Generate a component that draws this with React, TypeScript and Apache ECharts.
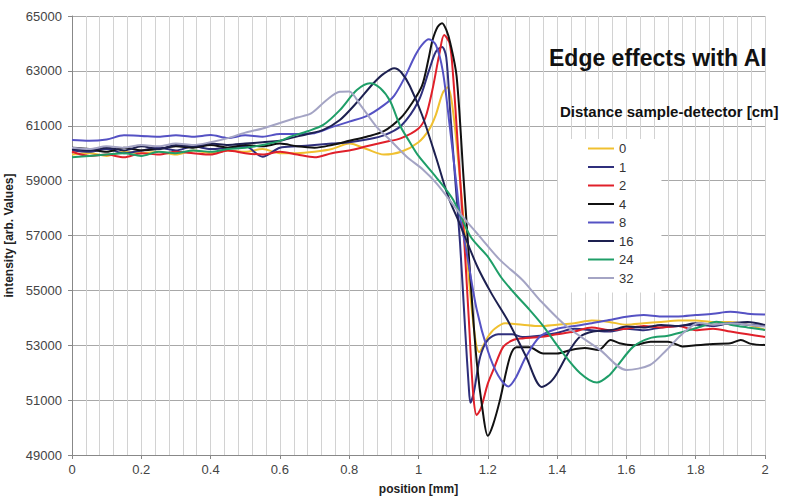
import React, { useEffect, useRef } from 'react';
import * as echarts from 'echarts';

const seriesNames = ['0', '1', '2', '4', '8', '16', '24', '32'];
const seriesColors = ['#f0c030', '#2f2f7c', '#e0202a', '#111111', '#5552c4', '#1d2050', '#1f9e68', '#a4a4c4'];

const xTickLabels = ['0', '0.2', '0.4', '0.6', '0.8', '1', '1.2', '1.4', '1.6', '1.8', '2'];
const yTickLabels = ['49000', '51000', '53000', '55000', '57000', '59000', '61000', '63000', '65000'];

const x0 = [0, 0.05, 0.1, 0.15, 0.2, 0.25, 0.3, 0.35, 0.4, 0.45, 0.5, 0.55, 0.6, 0.65, 0.7, 0.75, 0.8, 0.85, 0.9, 0.95, 1.0,
  1.03, 1.05, 1.07, 1.085, 1.1, 1.12, 1.14, 1.16, 1.175, 1.2, 1.22, 1.25,
  1.3, 1.35, 1.4, 1.45, 1.5, 1.55, 1.6, 1.65, 1.7, 1.75, 1.8, 1.85, 1.9, 1.95, 2.0];
const y0 = [59950, 60000, 59900, 60050, 60000, 60050, 59950, 60100, 60000, 60100, 60050, 60150, 60000, 60000, 60050, 60150, 60350, 60150, 59950, 60050, 60400,
  60850, 61400, 62200, 62400, 61500, 59000, 56200, 53600, 52750, 53300, 53600, 53800,
  53750, 53700, 53750, 53800, 53900, 53850, 53750, 53800, 53850, 53900, 53900, 53850, 53850, 53750, 53560];

const x1 = [0, 0.05, 0.1, 0.15, 0.2, 0.25, 0.3, 0.35, 0.4, 0.45, 0.5, 0.55, 0.6, 0.65, 0.7, 0.75, 0.8, 0.85, 0.9, 0.95, 1.0,
  1.03, 1.05, 1.068, 1.08, 1.091, 1.105, 1.12, 1.135, 1.145, 1.15, 1.16, 1.178, 1.2, 1.23, 1.27,
  1.3, 1.35, 1.4, 1.45, 1.5, 1.55, 1.6, 1.65, 1.7, 1.75, 1.8, 1.85, 1.9, 1.95, 2.0];
const y1 = [60100, 60050, 60150, 60000, 60100, 60200, 60100, 60250, 60150, 60200, 60250, 59870, 60200, 60250, 60300, 60350, 60400, 60500, 60650, 61000, 61900,
  63000, 63700, 63870, 63500, 61600, 59200, 56700, 53500, 51500, 50900, 51300, 52580, 53200, 53400, 53400,
  53300, 53350, 53450, 53600, 53550, 53500, 53600, 53550, 53650, 53700, 53750, 53700, 53800, 53750, 53700];

const x2 = [0, 0.05, 0.1, 0.15, 0.2, 0.25, 0.3, 0.35, 0.4, 0.45, 0.5, 0.55, 0.6, 0.65, 0.7, 0.75, 0.8, 0.85, 0.9, 0.95, 1.0,
  1.02, 1.04, 1.06, 1.074, 1.09, 1.1, 1.115, 1.13, 1.145, 1.158, 1.168, 1.18, 1.2, 1.216, 1.245, 1.275,
  1.3, 1.35, 1.4, 1.45, 1.5, 1.55, 1.6, 1.65, 1.7, 1.75, 1.8, 1.85, 1.9, 1.95, 2.0];
const y2 = [60050, 59900, 59950, 59850, 60000, 59950, 60050, 60000, 59950, 60100, 60000, 59950, 60050, 59950, 59850, 60000, 60100, 60250, 60400, 60550, 60900,
  61300, 62300, 63600, 64310, 64000, 62800, 60000, 57200, 54000, 51200, 50460, 50700, 51600, 52100, 52950, 53200,
  53250, 53300, 53400, 53500, 53650, 53550, 53600, 53700, 53650, 53700, 53550, 53600, 53500, 53400, 53300];

const x4 = [0, 0.05, 0.1, 0.15, 0.2, 0.25, 0.3, 0.35, 0.4, 0.45, 0.5, 0.55, 0.6, 0.65, 0.7, 0.75, 0.8, 0.85, 0.9, 0.95,
  0.98, 1.01, 1.03, 1.04, 1.055, 1.068, 1.08, 1.092, 1.11, 1.13, 1.15, 1.168, 1.187, 1.2, 1.215, 1.235, 1.264, 1.283,
  1.32, 1.36, 1.4, 1.44, 1.48, 1.52, 1.555, 1.58, 1.62, 1.67, 1.72, 1.765, 1.8, 1.85, 1.9, 1.93, 1.96, 2.0];
const y4 = [60200, 60150, 60050, 60200, 60100, 60150, 60250, 60200, 60300, 60200, 60300, 60250, 60350, 60250, 60200, 60300, 60450, 60600, 60800, 61300,
  61800, 62450, 63500, 64100, 64600, 64740, 64500, 64000, 62800, 59100, 55400, 52400, 50450, 49700, 50100, 51000, 52580, 52930,
  52930, 52700, 52700, 52830, 52900, 52830, 53190, 53070, 53000, 53130, 53130, 52950, 53000, 53050, 53070, 53190, 53050, 53010];

const x8 = [0, 0.05, 0.1, 0.15, 0.2, 0.25, 0.3, 0.35, 0.4, 0.45, 0.5, 0.55, 0.6, 0.65, 0.7, 0.75, 0.8, 0.85, 0.9,
  0.93, 0.96, 0.99, 1.01, 1.03, 1.05, 1.07, 1.09, 1.11, 1.12, 1.14, 1.168, 1.2, 1.23, 1.26, 1.28, 1.31, 1.35,
  1.4, 1.45, 1.5, 1.55, 1.6, 1.65, 1.7, 1.75, 1.8, 1.85, 1.9, 1.95, 2.0];
const y8 = [60480, 60450, 60500, 60650, 60630, 60600, 60650, 60600, 60660, 60550, 60650, 60600, 60700, 60700, 60730, 60950, 61150, 61350, 61750,
  62100, 62750, 63550, 63950, 64150, 63950, 63000, 61000, 58800, 57700, 56300, 54300, 52800, 51900, 51500, 51800, 52580, 53310,
  53600, 53700, 53800, 53920, 54040, 54100, 54050, 54050, 54100, 54150, 54220, 54150, 54120];

const x16 = [0, 0.05, 0.1, 0.15, 0.2, 0.25, 0.3, 0.35, 0.4, 0.45, 0.5, 0.55, 0.6,
  0.63, 0.68, 0.725, 0.773, 0.82, 0.87, 0.9, 0.93, 0.95, 0.975, 1.01, 1.05, 1.086, 1.12, 1.17, 1.21, 1.26, 1.31, 1.356, 1.38, 1.4, 1.437, 1.466, 1.504, 1.56,
  1.6, 1.65, 1.7, 1.75, 1.8, 1.85, 1.9, 1.95, 2.0];
const y16 = [60150, 60100, 60200, 60100, 60250, 60150, 60300, 60250, 60350, 60300, 60350, 60400, 60450,
  60550, 60700, 60850, 61210, 61820, 62550, 62900, 63100, 62950, 62450, 61400, 59870, 58410, 57400, 55860, 54900, 53850, 52600, 51480, 51650, 51980, 52830, 53310, 53500, 53560,
  53680, 53650, 53740, 53700, 53800, 53750, 53800, 53850, 53740];

const x24 = [0, 0.05, 0.1, 0.15, 0.2, 0.25, 0.3, 0.35, 0.4, 0.45, 0.5, 0.55, 0.6,
  0.63, 0.68, 0.725, 0.773, 0.822, 0.86, 0.89, 0.918, 0.947, 0.975, 1.0, 1.05, 1.1, 1.15, 1.2, 1.24, 1.28, 1.32, 1.36, 1.41, 1.466, 1.515, 1.55, 1.572, 1.62, 1.668, 1.72, 1.784, 1.82, 1.86, 1.9, 1.95, 2.0];
const y24 = [59850, 59900, 59950, 60000, 59900, 60050, 60000, 60100, 60050, 60150, 60200, 60300, 60450,
  60600, 60800, 61030, 61570, 62300, 62550, 62370, 61900, 61000, 60400, 59900, 59140, 58300, 56960, 56230, 55450, 54850, 54300, 53700, 52830, 51990, 51640, 51900, 52220, 52950, 53260, 53350, 53560, 53700, 53860, 53750, 53650, 53560];

const x32 = [0, 0.05, 0.1, 0.15, 0.2, 0.25, 0.3, 0.35, 0.4, 0.45,
  0.5, 0.55, 0.6, 0.65, 0.69, 0.735, 0.773, 0.8, 0.83, 0.879, 0.918, 0.966, 1.014, 1.052, 1.12, 1.177, 1.235, 1.3, 1.35, 1.428, 1.524, 1.6, 1.668, 1.716, 1.764, 1.81, 1.85, 1.9, 1.95, 2.0];
const y32 = [60200, 60150, 60250, 60200, 60300, 60250, 60350, 60300, 60400, 60550,
  60750, 60900, 61100, 61300, 61450, 61940, 62240, 62250, 61800, 60960, 60480, 59870, 59390, 58900, 57800, 56960, 56110, 55380, 54650, 53680, 52830, 52100, 52280, 52830, 53450, 53810, 53750, 53800, 53750, 53680];

const seriesX = [x0, x1, x2, x4, x8, x16, x24, x32];
const seriesY = [y0, y1, y2, y4, y8, y16, y24, y32];

const FONT = '"Liberation Sans", Arial, sans-serif';

export default function App() {
  const ref = useRef<HTMLDivElement>(null);
  useEffect(() => {
    if (!ref.current) return;
    const chart = echarts.init(ref.current, undefined, { renderer: 'svg' });
    const option: any = {
      animation: false,
      backgroundColor: '#ffffff',
      textStyle: { fontFamily: FONT },
      title: [
        {
          text: 'Edge effects with Al', left: 549, top: 46, padding: 0,
          textStyle: { fontSize: 23, fontWeight: 'bold', color: '#111', fontFamily: FONT },
        },
        {
          text: 'Distance sample-detector [cm]', left: 560, top: 104, padding: 0,
          textStyle: { fontSize: 15, fontWeight: 'bold', color: '#111', fontFamily: FONT },
        },
      ],
      legend: {
        data: seriesNames,
        orient: 'vertical',
        left: 558,
        top: 139,
        backgroundColor: '#ffffff',
        padding: [3, 28, 8, 29],
        itemWidth: 26,
        itemHeight: 14,
        itemGap: 5.5,
        itemTextGap: 2,
        itemStyle: { opacity: 0 },
        lineStyle: { width: 2 },
        textStyle: { fontSize: 13, color: '#333', fontFamily: FONT },
      },
      grid: { left: 72, right: 21, top: 16, bottom: 42, containLabel: false, outerBoundsMode: 'none' },
      xAxis: {
        type: 'value', min: 0, max: 2, interval: 0.2,
        axisLine: { show: true, lineStyle: { color: '#888', width: 1 } },
        axisTick: { show: true, length: 4, lineStyle: { color: '#888' } },
        axisLabel: {
          fontSize: 13, color: '#444', margin: 8, fontFamily: FONT,
          formatter: (v: number) => xTickLabels[Math.round(v / 0.2)] ?? '',
        },
        splitLine: { show: true, lineStyle: { color: '#d2d2d2', width: 1 } },
        minorTick: { show: false, splitNumber: 5 },
        minorSplitLine: { show: true, lineStyle: { color: '#d2d2d2', width: 1 } },
        name: 'position [mm]', nameLocation: 'middle', nameGap: 28,
        nameTextStyle: { fontWeight: 'bold', fontSize: 12, color: '#222', fontFamily: FONT },
      },
      yAxis: {
        type: 'value', min: 49000, max: 65000, interval: 2000,
        axisLine: { show: true, lineStyle: { color: '#888', width: 1 } },
        axisTick: { show: true, length: 4, lineStyle: { color: '#888' } },
        axisLabel: {
          fontSize: 13, color: '#444', margin: 10, fontFamily: FONT,
          formatter: (v: number) => yTickLabels[Math.round((v - 49000) / 2000)] ?? '',
        },
        splitLine: { show: true, lineStyle: { color: '#a8a8a8', width: 1 } },
        name: 'intensity [arb. Values]', nameLocation: 'middle', nameGap: 54,
        nameTextStyle: { fontWeight: 'bold', fontSize: 12, color: '#222', fontFamily: FONT },
      },
      series: seriesNames.map((name, i) => ({
        name,
        type: 'line',
        data: seriesX[i].map((x, j) => [x, seriesY[i][j]]),
        symbol: 'none',
        smooth: 0.3,
        lineStyle: { width: 2, color: seriesColors[i] },
        itemStyle: { color: seriesColors[i] },
      })),
    };
    chart.setOption(option);
    return () => chart.dispose();
  }, []);
  return (
    <div
      ref={ref}
      style={{ position: 'fixed', left: 0, top: 0, width: 786, height: 497, background: '#fff' }}
    />
  );
}
